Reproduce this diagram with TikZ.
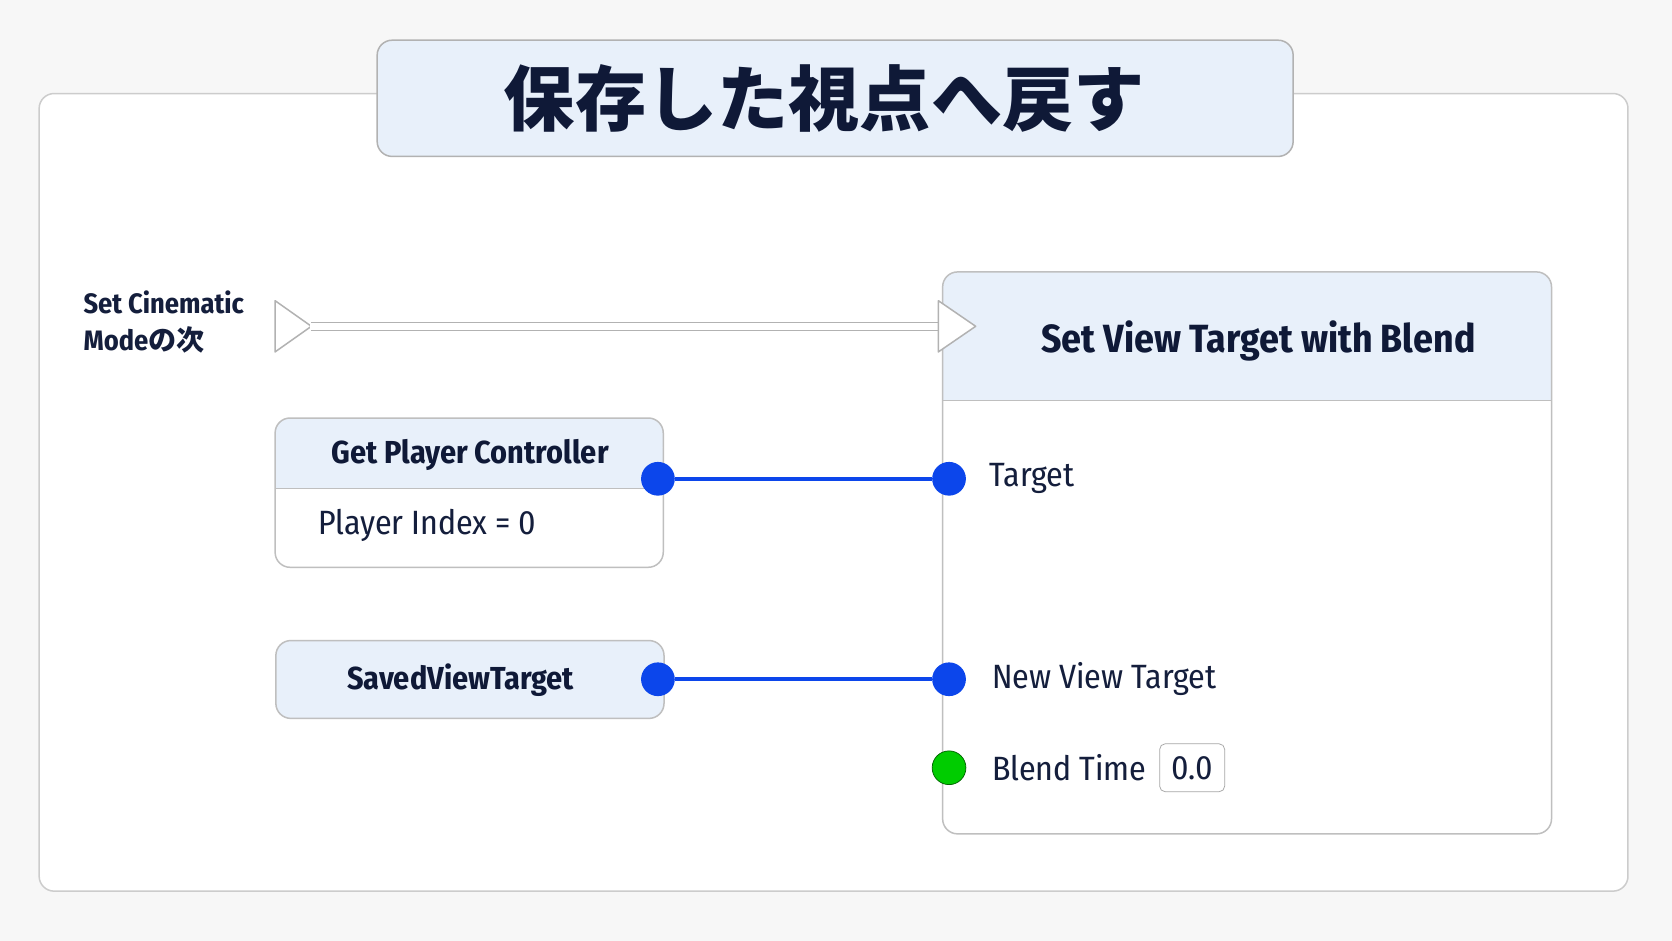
\documentclass[tikz,border=0pt]{standalone}
\usepackage{fontspec}
\setmainfont{Noto Sans CJK JP}
\newfontfamily\lat{Fira Sans Condensed}
\newfontfamily\jp{Noto Sans CJK JP}
\definecolor{hdrc}{RGB}{232,240,250}
\definecolor{pinc}{RGB}{12,70,235}
\definecolor{txtc}{RGB}{20,30,60}
\definecolor{titc}{RGB}{15,25,55}
\begin{document}
\begin{tikzpicture}[x=0.02cm,y=-0.02cm,
  lbl/.style={font=\lat\fontsize{18}{20}\selectfont,text=txtc,anchor=west,inner sep=0},
  pin/.style={circle,fill=pinc,minimum size=18pt,inner sep=0},
  gpin/.style={circle,fill=green!80!black,draw=green!40!black,minimum size=18pt,inner sep=0},
  wire/.style={line width=2pt,draw=pinc}]
\useasboundingbox (0,0) rectangle (1568,882);
\fill[black!3] (0,0) rectangle (1568,882);
\node[draw=black!20,fill=white,rounded corners=8,line width=0.8pt,minimum width=1490*0.02cm,minimum height=748*0.02cm,anchor=north west] (outer) at (36,87) {};
\node[draw=black!30,fill=hdrc,rounded corners=8,line width=0.8pt,minimum width=859*0.02cm,minimum height=109*0.02cm,anchor=north west] (title) at (353,37) {};
\node[font=\fontsize{38}{42}\selectfont\bfseries,text=titc] at (773,92) {保存した視点へ戻す};
\node[lbl,font=\lat\fontsize{15}{17}\selectfont\bfseries,align=left] (src) at (78,302) {Set Cinematic\\[3pt]Mode{\jp の次}};
% big node
\fill[white,rounded corners=8] (884,255) rectangle (1455,782);
\fill[hdrc,rounded corners=8] (884,255) rectangle (1455,330);
\fill[hdrc] (884,300) rectangle (1455,375);
\draw[black!25] (884,375) -- (1455,375);
\draw[black!25,rounded corners=8,line width=0.8pt] (884,255) rectangle (1455,782);
\node (big) [font=\lat\fontsize{21}{24}\selectfont\bfseries,text=titc] at (1180,320) {Set View Target with Blend};
% get player controller
\fill[white,rounded corners=8] (258,392) rectangle (622,532);
\fill[hdrc,rounded corners=8] (258,392) rectangle (622,430);
\fill[hdrc] (258,420) rectangle (622,458);
\draw[black!25] (258,458) -- (622,458);
\draw[black!25,rounded corners=8,line width=0.8pt] (258,392) rectangle (622,532);
\node (gpc) [font=\lat\fontsize{17}{20}\selectfont\bfseries,text=titc] at (441,427) {Get Player Controller};
\node (pidx) [lbl] at (298,493) {Player Index = 0};
% saved
\node[draw=black!25,fill=hdrc,rounded corners=8,line width=0.8pt,minimum width=364*0.02cm,minimum height=73*0.02cm,anchor=north west] (sv) at (258,600) {};
\node (svt) [font=\lat\fontsize{17}{20}\selectfont\bfseries,text=titc] at (432,638) {SavedViewTarget};
% exec
\draw[black!30,line width=0.8pt,fill=white,line join=round] (258,282) -- (292,306) -- (258,330) -- cycle;
\draw[black!30,line width=5pt] (292,306) -- (880,306);
\draw[white,line width=3.5pt] (291,306) -- (881,306);
\draw[black!30,line width=0.8pt,fill=white,line join=round] (880,282) -- (915,306) -- (880,330) -- cycle;
% pins
\node[pin] (o1) at (617,449) {};
\node[pin] (i1) at (890,449) {};
\node[pin] (o2) at (617,637) {};
\node[pin] (i2) at (890,637) {};
\node[gpin] (i3) at (890,720) {};
\draw[wire] (o1) -- (i1);
\draw[wire] (o2) -- (i2);
\node (t1) [lbl] at (928,449) {Target};
\node (t2) [lbl] at (930,637) {New View Target};
\node (t3) [lbl] at (930,720) {Blend Time};
\node (bv) [draw=black!35,rounded corners=3,minimum width=61*0.02cm,minimum height=45*0.02cm,font=\lat\fontsize{18}{20}\selectfont,text=txtc] at (1118,720) {0.0};
\end{tikzpicture}
\end{document}
